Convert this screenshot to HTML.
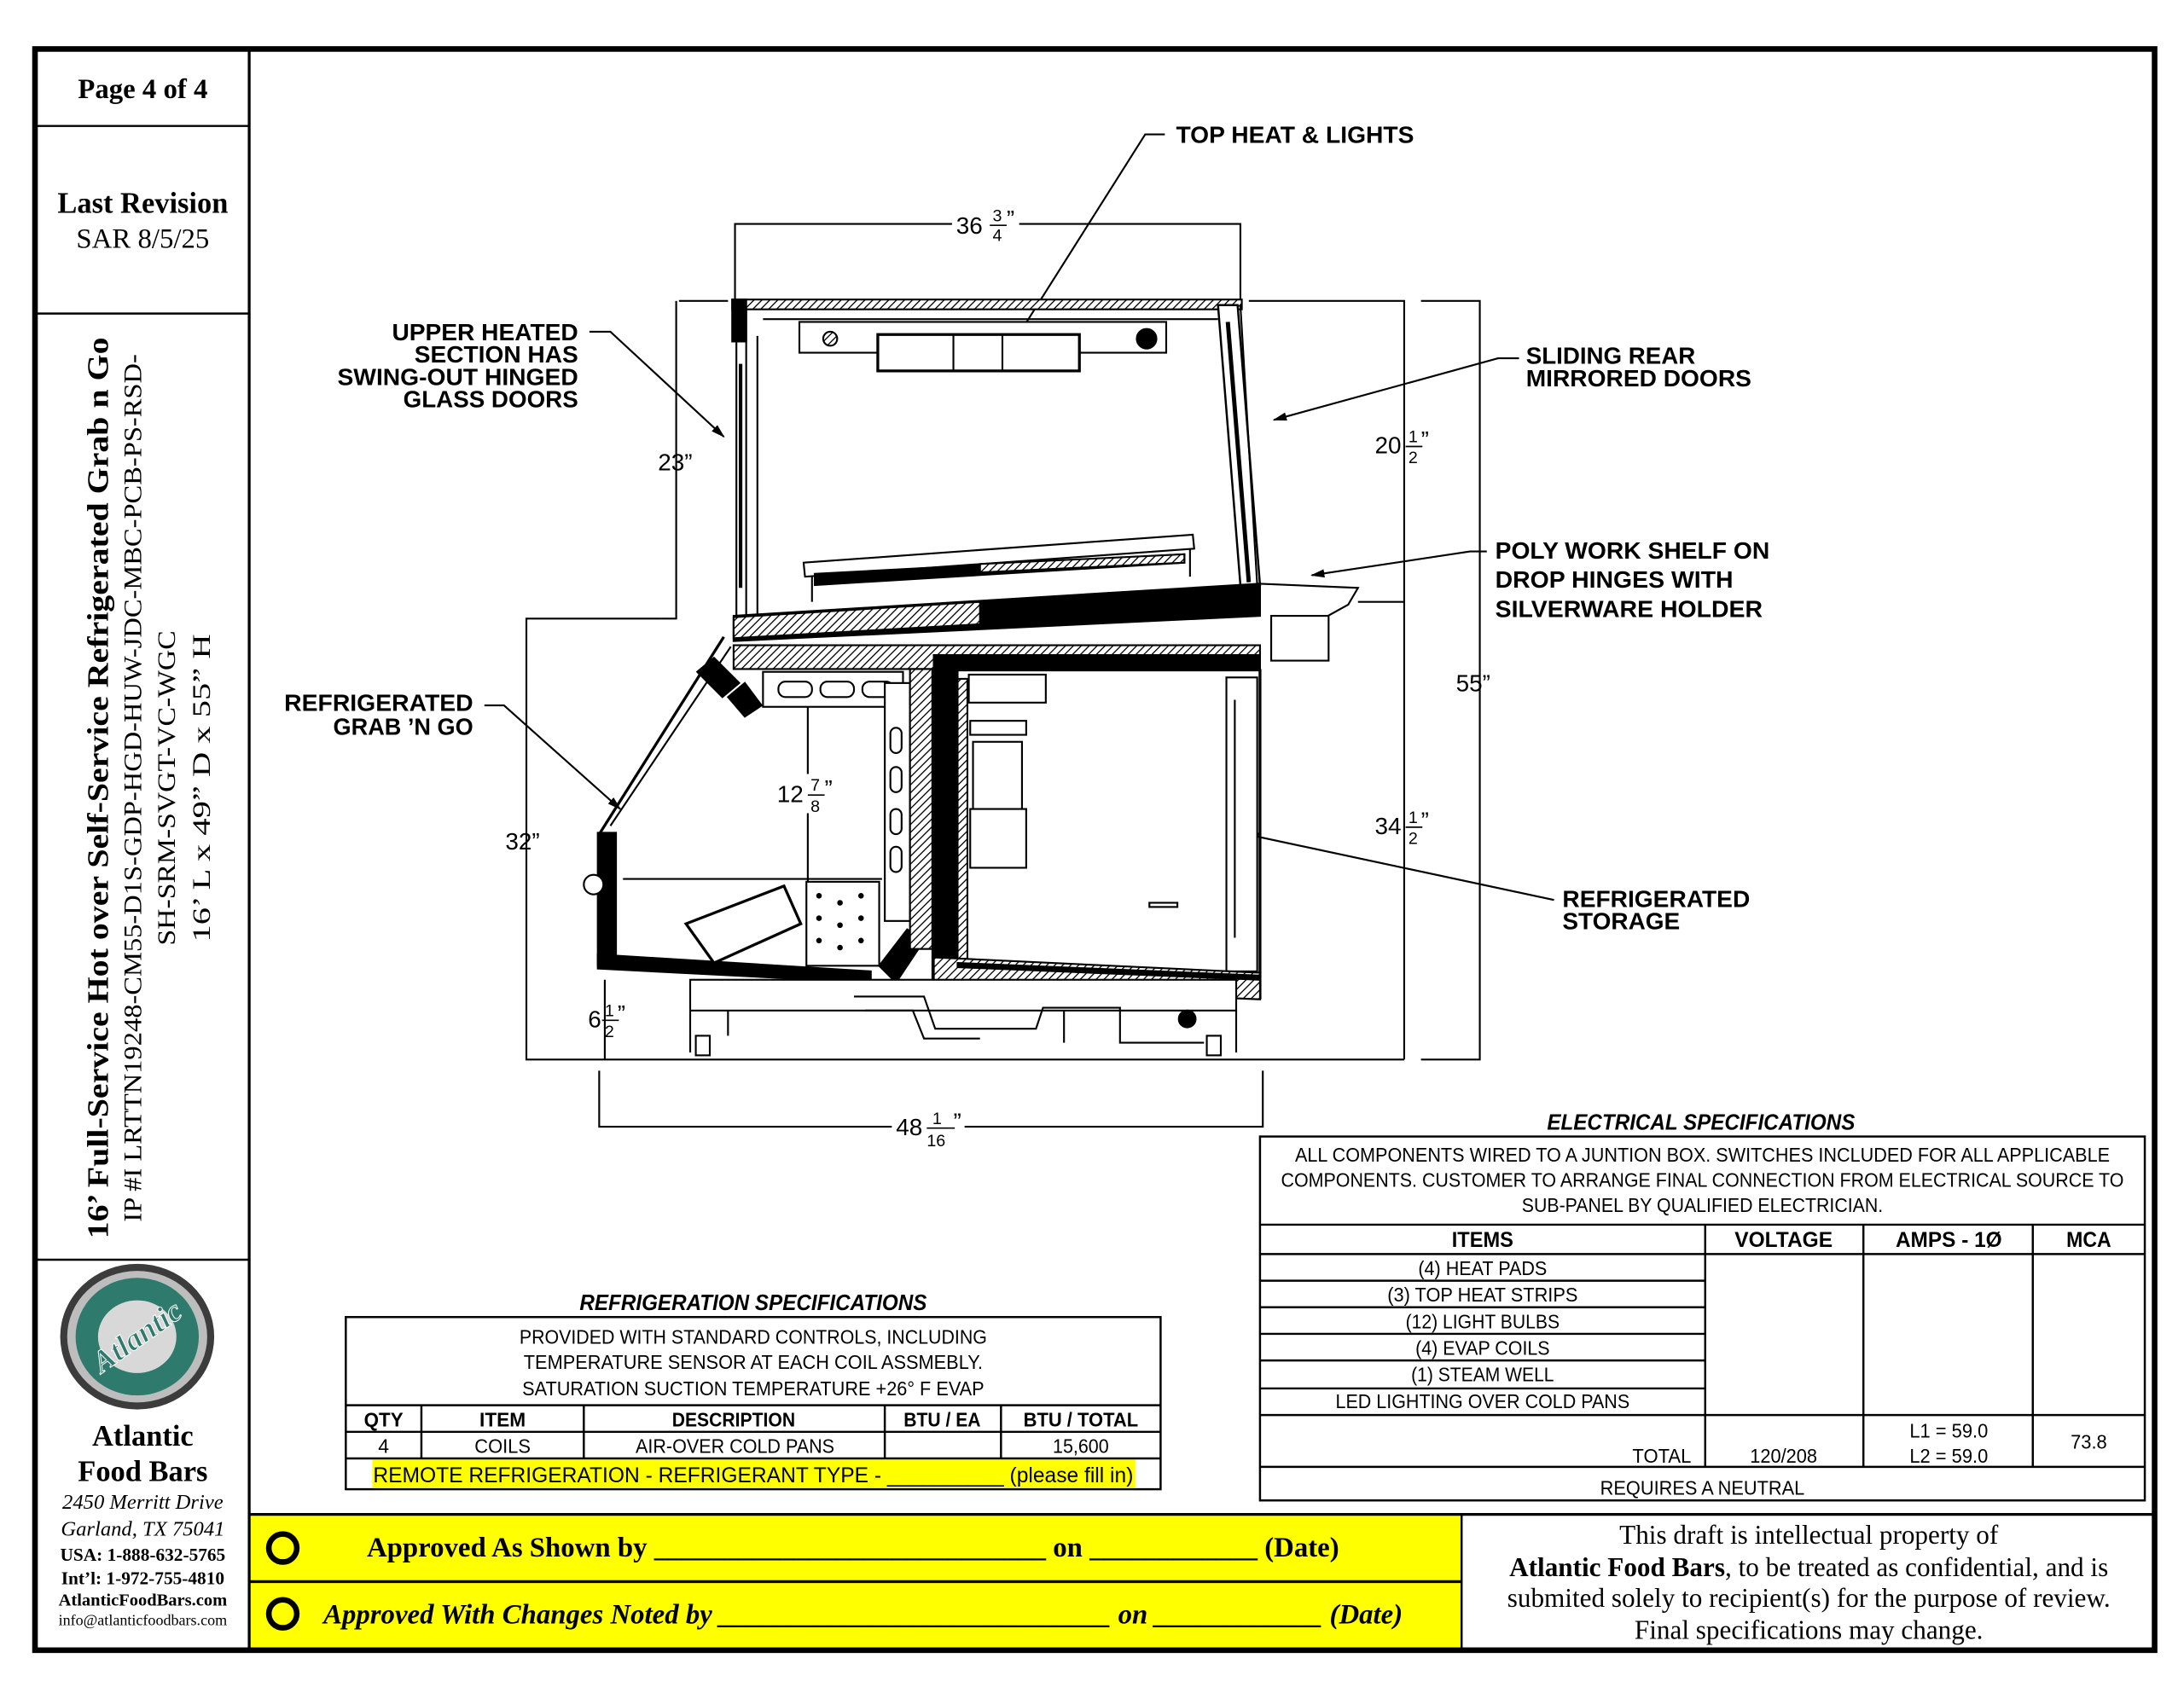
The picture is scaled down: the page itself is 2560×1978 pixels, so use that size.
<!DOCTYPE html>
<html><head><meta charset="utf-8"><style>
html,body{margin:0;padding:0;background:#fff;}
svg{display:block;}
.s{font-family:"Liberation Sans",Arial,sans-serif;}
.sb{font-family:"Liberation Sans",Arial,sans-serif;font-weight:bold;}
.r{font-family:"Liberation Serif","Times New Roman",serif;}
</style></head><body>
<svg width="2560" height="1978" viewBox="0 0 1560 1205.3" preserveAspectRatio="none" xmlns="http://www.w3.org/2000/svg">
<defs>
<pattern id="h" width="4" height="4" patternUnits="userSpaceOnUse" patternTransform="rotate(45)">
<rect width="4" height="4" fill="#fff"/><line x1="0" y1="0" x2="0" y2="4" stroke="#000" stroke-width="1.6"/></pattern>
<marker id="a" markerWidth="10" markerHeight="8" refX="9" refY="4" orient="auto" markerUnits="userSpaceOnUse"><path d="M0,1 L10,4 L0,7 Z" fill="#000"/></marker>
</defs>
<rect width="1560" height="1205.3" fill="#fff"/>

<!-- yellow band -->
<rect x="178" y="1083" width="866" height="95" fill="#ffff00"/>
<!-- frame -->
<rect x="25" y="35" width="1514" height="1144" fill="none" stroke="#000" stroke-width="4"/>
<line x1="178" y1="35" x2="178" y2="1179" stroke="#000" stroke-width="2"/>
<line x1="25" y1="90" x2="178" y2="90" stroke="#000" stroke-width="1.5"/>
<line x1="25" y1="224" x2="178" y2="224" stroke="#000" stroke-width="1.5"/>
<line x1="25" y1="900" x2="178" y2="900" stroke="#000" stroke-width="1.5"/>
<line x1="178" y1="1082" x2="1539" y2="1082" stroke="#000" stroke-width="2"/>
<line x1="178" y1="1130" x2="1044" y2="1130" stroke="#000" stroke-width="2"/>
<line x1="1044" y1="1082" x2="1044" y2="1179" stroke="#000" stroke-width="1.5"/>

<!-- left column text -->
<text x="102" y="70" class="r" font-weight="bold" font-size="20" text-anchor="middle">Page 4 of 4</text>
<text x="102" y="152" class="r" font-weight="bold" font-size="21" text-anchor="middle">Last Revision</text>
<text x="102" y="177" class="r" font-size="20" text-anchor="middle">SAR 8/5/25</text>
<g transform="translate(0,563) rotate(-90)">
<text x="0" y="77" class="r" font-weight="bold" font-size="21" text-anchor="middle" textLength="644" lengthAdjust="spacingAndGlyphs">16’  Full-Service Hot over Self-Service Refrigerated Grab n Go</text>
<text x="0" y="101" class="r" font-size="18" text-anchor="middle" textLength="620" lengthAdjust="spacingAndGlyphs">IP #I LRTTN19248-CM55-D1S-GDP-HGD-HUW-JDC-MBC-PCB-PS-RSD-</text>
<text x="0" y="125" class="r" font-size="18" text-anchor="middle" textLength="225" lengthAdjust="spacingAndGlyphs">SH-SRM-SVGT-VC-WGC</text>
<text x="0" y="150" class="r" font-size="18" text-anchor="middle" textLength="220" lengthAdjust="spacingAndGlyphs">16’  L x 49”  D x 55”  H</text>
</g>
<!-- logo -->
<ellipse cx="98" cy="955" rx="55" ry="52" fill="#3c3c3c"/>
<ellipse cx="98" cy="955" rx="50" ry="47" fill="#bdbdbd"/>
<ellipse cx="98" cy="955" rx="44" ry="42" fill="#2e7a6c"/>
<ellipse cx="98" cy="955" rx="28" ry="26" fill="#d8d8d8"/>
<text x="98" y="962" class="r" font-weight="bold" font-style="italic" font-size="22" fill="#2e7a6c" stroke="#fff" stroke-width="0.6" text-anchor="middle" transform="rotate(-35 98 955)">Atlantic</text>
<text x="102" y="1033" class="r" font-weight="bold" font-size="21" text-anchor="middle">Atlantic</text>
<text x="102" y="1058" class="r" font-weight="bold" font-size="21" text-anchor="middle">Food Bars</text>
<text x="102" y="1078" class="r" font-style="italic" font-size="15" text-anchor="middle">2450 Merritt Drive</text>
<text x="102" y="1097" class="r" font-style="italic" font-size="15" text-anchor="middle">Garland, TX 75041</text>
<text x="102" y="1115" class="r" font-weight="bold" font-size="13" text-anchor="middle">USA: 1-888-632-5765</text>
<text x="102" y="1132" class="r" font-weight="bold" font-size="13" text-anchor="middle">Int’l: 1-972-755-4810</text>
<text x="102" y="1147" class="r" font-weight="bold" font-size="12.5" text-anchor="middle">AtlanticFoodBars.com</text>
<text x="102" y="1161" class="r" font-size="11" text-anchor="middle">info@atlanticfoodbars.com</text>

<!-- approval band -->
<circle cx="202" cy="1106" r="10" fill="none" stroke="#000" stroke-width="4"/>
<circle cx="202" cy="1153" r="10" fill="none" stroke="#000" stroke-width="4"/>
<text x="262" y="1112" class="r" font-weight="bold" font-size="20">Approved As Shown by ____________________________ on ____________ (Date)</text>
<text x="231" y="1160" class="r" font-weight="bold" font-style="italic" font-size="20">Approved With Changes Noted by ____________________________ on ____________ (Date)</text>
<g class="r" font-size="19" text-anchor="middle">
<text x="1292" y="1103">This draft is intellectual property of</text>
<text x="1292" y="1126"><tspan font-weight="bold">Atlantic Food Bars</tspan>, to be treated as confidential, and is</text>
<text x="1292" y="1148">submited solely to recipient(s) for the purpose of review.</text>
<text x="1292" y="1171">Final specifications may change.</text>
</g>

<!-- refrigeration specs -->
<text x="538" y="936" class="sb" font-style="italic" font-size="16" text-anchor="middle" textLength="248" lengthAdjust="spacingAndGlyphs">REFRIGERATION SPECIFICATIONS</text>
<rect x="266" y="1043" width="545" height="20" fill="#ffff00"/>
<g fill="none" stroke="#000" stroke-width="1.5">
<rect x="247" y="941" width="582" height="123"/>
<line x1="247" y1="1004" x2="829" y2="1004"/>
<line x1="247" y1="1023" x2="829" y2="1023"/>
<line x1="247" y1="1042" x2="829" y2="1042"/>
<line x1="301" y1="1004" x2="301" y2="1042"/>
<line x1="417" y1="1004" x2="417" y2="1042"/>
<line x1="632" y1="1004" x2="632" y2="1042"/>
<line x1="715" y1="1004" x2="715" y2="1042"/>
</g>
<g class="s" font-size="14" text-anchor="middle">
<text x="538" y="960" textLength="334" lengthAdjust="spacingAndGlyphs">PROVIDED WITH STANDARD CONTROLS, INCLUDING</text>
<text x="538" y="978" textLength="328" lengthAdjust="spacingAndGlyphs">TEMPERATURE SENSOR AT EACH COIL ASSMEBLY.</text>
<text x="538" y="997" textLength="330" lengthAdjust="spacingAndGlyphs">SATURATION SUCTION TEMPERATURE +26° F EVAP</text>
<g class="sb" font-size="14">
<text x="274" y="1019" textLength="28" lengthAdjust="spacingAndGlyphs">QTY</text>
<text x="359" y="1019" textLength="33" lengthAdjust="spacingAndGlyphs">ITEM</text>
<text x="524" y="1019" textLength="88" lengthAdjust="spacingAndGlyphs">DESCRIPTION</text>
<text x="673" y="1019" textLength="55" lengthAdjust="spacingAndGlyphs">BTU / EA</text>
<text x="772" y="1019" textLength="82" lengthAdjust="spacingAndGlyphs">BTU / TOTAL</text>
</g>
<text x="274" y="1038">4</text>
<text x="359" y="1038" textLength="40" lengthAdjust="spacingAndGlyphs">COILS</text>
<text x="525" y="1038" textLength="142" lengthAdjust="spacingAndGlyphs">AIR-OVER COLD PANS</text>
<text x="772" y="1038" textLength="40" lengthAdjust="spacingAndGlyphs">15,600</text>
<text x="538" y="1059" font-size="15" textLength="543" lengthAdjust="spacingAndGlyphs">REMOTE REFRIGERATION - REFRIGERANT TYPE - __________ (please fill in)</text>
</g>

<!-- electrical specs -->
<text x="1215" y="807" class="sb" font-style="italic" font-size="16" text-anchor="middle" textLength="220" lengthAdjust="spacingAndGlyphs">ELECTRICAL SPECIFICATIONS</text>
<g fill="none" stroke="#000" stroke-width="1.5">
<rect x="900" y="812" width="632" height="260"/>
<line x1="900" y1="875" x2="1532" y2="875"/>
<line x1="900" y1="896" x2="1532" y2="896"/>
<line x1="900" y1="915" x2="1218" y2="915"/>
<line x1="900" y1="934" x2="1218" y2="934"/>
<line x1="900" y1="953" x2="1218" y2="953"/>
<line x1="900" y1="972" x2="1218" y2="972"/>
<line x1="900" y1="992" x2="1218" y2="992"/>
<line x1="900" y1="1011" x2="1532" y2="1011"/>
<line x1="900" y1="1048" x2="1532" y2="1048"/>
<line x1="1218" y1="875" x2="1218" y2="1048"/>
<line x1="1331" y1="875" x2="1331" y2="1048"/>
<line x1="1452" y1="875" x2="1452" y2="1048"/>
</g>
<g class="s" font-size="14" text-anchor="middle">
<text x="1216" y="830" textLength="582" lengthAdjust="spacingAndGlyphs">ALL COMPONENTS WIRED TO A JUNTION BOX.  SWITCHES INCLUDED FOR ALL APPLICABLE</text>
<text x="1216" y="848" textLength="602" lengthAdjust="spacingAndGlyphs">COMPONENTS. CUSTOMER TO ARRANGE FINAL CONNECTION FROM ELECTRICAL SOURCE TO</text>
<text x="1216" y="866" textLength="258" lengthAdjust="spacingAndGlyphs">SUB-PANEL BY QUALIFIED ELECTRICIAN.</text>
<g class="sb" font-size="15">
<text x="1059" y="891" textLength="44" lengthAdjust="spacingAndGlyphs">ITEMS</text>
<text x="1274" y="891" textLength="70" lengthAdjust="spacingAndGlyphs">VOLTAGE</text>
<text x="1392" y="891" textLength="76" lengthAdjust="spacingAndGlyphs">AMPS - 1Ø</text>
<text x="1492" y="891" textLength="32" lengthAdjust="spacingAndGlyphs">MCA</text>
</g>
<text x="1059" y="911" textLength="92" lengthAdjust="spacingAndGlyphs">(4) HEAT PADS</text>
<text x="1059" y="930" textLength="136" lengthAdjust="spacingAndGlyphs">(3) TOP HEAT STRIPS</text>
<text x="1059" y="949" textLength="110" lengthAdjust="spacingAndGlyphs">(12) LIGHT BULBS</text>
<text x="1059" y="968" textLength="96" lengthAdjust="spacingAndGlyphs">(4) EVAP COILS</text>
<text x="1059" y="987" textLength="102" lengthAdjust="spacingAndGlyphs">(1) STEAM WELL</text>
<text x="1059" y="1006" textLength="210" lengthAdjust="spacingAndGlyphs">LED LIGHTING OVER COLD PANS</text>
<text x="1187" y="1045" textLength="42" lengthAdjust="spacingAndGlyphs">TOTAL</text>
<text x="1274" y="1045" textLength="48" lengthAdjust="spacingAndGlyphs">120/208</text>
<text x="1392" y="1027" textLength="56" lengthAdjust="spacingAndGlyphs">L1 = 59.0</text>
<text x="1392" y="1045" textLength="56" lengthAdjust="spacingAndGlyphs">L2 = 59.0</text>
<text x="1492" y="1035" textLength="26" lengthAdjust="spacingAndGlyphs">73.8</text>
<text x="1216" y="1068" textLength="146" lengthAdjust="spacingAndGlyphs">REQUIRES A NEUTRAL</text>
</g>

<!-- ===== DRAWING ===== -->
<g fill="none" stroke="#000" stroke-width="1.3">
<!-- dimension / extension lines -->
<polyline points="525,215 525,160 886,160 886,215"/>
<polyline points="483,215 483,442 472,442"/>
<line x1="485" y1="215" x2="520" y2="215"/>
<polyline points="472,442 376,442 376,757 1003,757"/>
<polyline points="892,215 1003,215 1003,757"/>
<line x1="970" y1="430" x2="1003" y2="430"/>
<polyline points="1015,215 1057,215 1057,757 1015,757"/>
<polyline points="428,765 428,805 902,805 902,765"/>
<line x1="432" y1="700" x2="432" y2="757"/>
<line x1="577" y1="505" x2="577" y2="630"/>
<!-- leaders -->
<polyline points="832,96 818,96 727,240"/>
<polyline points="421,237 436,237 517,312" marker-end="url(#a)"/>
<polyline points="1085,256 1070,256 910,300" marker-end="url(#a)"/>
<polyline points="1062,394 1050,394 937,411" marker-end="url(#a)"/>
<polyline points="346,504 360,504 443,578" marker-end="url(#a)"/>
<polyline points="1110,643 1096,640 890,596" marker-end="url(#a)"/>
</g>

<!-- cabinet -->
<g stroke="#000" stroke-width="1.3" fill="none">
<!-- top bar -->
<rect x="523" y="214" width="364" height="7" fill="url(#h)"/>
<rect x="523" y="214" width="10" height="30" fill="#000"/>
<!-- left upper wall -->
<line x1="526" y1="221" x2="526" y2="440"/>
<line x1="533" y1="221" x2="533" y2="440"/>
<line x1="541" y1="240" x2="541" y2="440"/>
<line x1="529" y1="260" x2="529" y2="420" stroke-width="2.5"/>
<!-- right upper wall -->
<polygon points="870,218 884,218 900,418 886,418" fill="#fff" stroke-width="1.5"/>
<line x1="877" y1="230" x2="892" y2="416" stroke-width="3"/>
<line x1="886" y1="218" x2="898" y2="418"/>
<!-- top heat unit -->
<rect x="571" y="230" width="262" height="22" fill="#fff"/>
<line x1="545" y1="228" x2="870" y2="228"/>
<circle cx="593" cy="242" r="5" fill="url(#h)"/>
<circle cx="819" cy="242" r="7" fill="#000"/>
<rect x="627" y="239" width="144" height="26" fill="#fff" stroke-width="2"/>
<line x1="681" y1="239" x2="681" y2="265"/>
<line x1="716" y1="239" x2="716" y2="265"/>
<!-- shelf -->
<polygon points="574,402 852,382 853,392 575,412" fill="#fff"/>
<polygon points="582,410 846,396 846,402 582,418" fill="#000"/>
<polygon points="700,403 846,396 846,402 700,409" fill="url(#h)"/>
<line x1="580" y1="412" x2="580" y2="430"/>
<line x1="850" y1="392" x2="850" y2="412"/>
<!-- mid slab -->
<polygon points="524,440 900,417 900,440 524,458" fill="#000"/>
<polygon points="524,441 700,430 700,446 524,456" fill="url(#h)"/>
<rect x="524" y="461" width="376" height="17" fill="url(#h)"/>
<rect x="667" y="468" width="233" height="11" fill="#000"/>
<!-- rear shelf bracket -->
<polyline points="898,417 970,420 963,432 945,442"/>
<rect x="908" y="440" width="41" height="32" fill="#fff"/>
<!-- front angled glass -->
<line x1="517" y1="455" x2="428" y2="596" stroke-width="2"/>
<line x1="522" y1="462" x2="436" y2="590"/>
<polygon points="498,480 510,470 528,488 516,498" fill="#000"/>
<polygon points="520,498 532,488 544,504 532,512" fill="#000"/>
<!-- grab n go well -->
<rect x="427" y="595" width="13" height="95" fill="#000"/>
<circle cx="424" cy="632" r="7" fill="#fff"/>
<polygon points="427,682 622,694 622,702 427,692" fill="#000"/>
<rect x="545" y="480" width="100" height="25" fill="#fff"/>
<rect x="556" y="487" width="24" height="11" rx="5"/>
<rect x="586" y="487" width="24" height="11" rx="5"/>
<rect x="616" y="487" width="22" height="11" rx="5"/>
<line x1="445" y1="628" x2="630" y2="628"/>
<polygon points="490,660 560,633 572,660 510,688" fill="#fff" stroke-width="2"/>
<rect x="576" y="630" width="52" height="60" fill="#fff"/>
<g fill="#000" stroke="none">
<circle cx="585" cy="640" r="2"/><circle cx="600" cy="645" r="2"/><circle cx="615" cy="640" r="2"/>
<circle cx="585" cy="656" r="2"/><circle cx="600" cy="661" r="2"/><circle cx="615" cy="656" r="2"/>
<circle cx="585" cy="672" r="2"/><circle cx="600" cy="677" r="2"/><circle cx="615" cy="672" r="2"/>
</g>
<polygon points="628,690 648,664 660,672 640,702" fill="#000"/>
<!-- vertical divider -->
<rect x="632" y="488" width="18" height="170" fill="#fff"/>
<rect x="636" y="520" width="8" height="18" rx="4"/><rect x="636" y="548" width="8" height="18" rx="4"/>
<rect x="636" y="578" width="8" height="18" rx="4"/><rect x="636" y="605" width="8" height="18" rx="4"/>
<rect x="650" y="478" width="16" height="200" fill="url(#h)"/>
<rect x="666" y="478" width="18" height="222" fill="#000"/>
<rect x="684" y="485" width="7" height="200" fill="url(#h)"/>
<!-- right storage -->
<rect x="692" y="482" width="55" height="20" fill="#fff"/>
<rect x="693" y="515" width="40" height="10" fill="#fff"/>
<rect x="695" y="530" width="35" height="48" fill="#fff"/>
<rect x="693" y="578" width="40" height="42" fill="#fff"/>
<rect x="821" y="645" width="20" height="3"/>
<rect x="876" y="484" width="22" height="210" fill="#fff"/>
<line x1="882" y1="500" x2="882" y2="670"/>
<line x1="900" y1="478" x2="900" y2="714" stroke-width="2"/>
<!-- bottom slab -->
<polygon points="667,684 900,695 900,714 667,704" fill="url(#h)"/>
<polygon points="684,688 900,697 900,700 684,691" fill="#000"/>
<!-- base -->
<rect x="493" y="700" width="390" height="22" fill="#fff"/>
<line x1="493" y1="722" x2="493" y2="752"/><line x1="883" y1="722" x2="883" y2="752"/>
<rect x="497" y="740" width="10" height="14" fill="#fff"/>
<rect x="862" y="740" width="10" height="14" fill="#fff"/>
<path d="M610,712 L660,712 L668,735 L740,735 L745,720 L800,720 L800,745 L860,745" />
<path d="M618,722 L652,722 L660,742 L700,742" />
<circle cx="848" cy="728" r="6" fill="#000"/>
<line x1="520" y1="722" x2="520" y2="740"/><line x1="760" y1="722" x2="760" y2="745"/>
</g>

<!-- labels -->
<g class="sb" font-size="17">
<text x="840" y="102" textLength="170" lengthAdjust="spacingAndGlyphs">TOP HEAT &amp; LIGHTS</text>
<g text-anchor="end">
<text x="413" y="243" textLength="133" lengthAdjust="spacingAndGlyphs">UPPER HEATED</text>
<text x="413" y="259" textLength="117" lengthAdjust="spacingAndGlyphs">SECTION HAS</text>
<text x="413" y="275" textLength="172" lengthAdjust="spacingAndGlyphs">SWING-OUT HINGED</text>
<text x="413" y="291" textLength="125" lengthAdjust="spacingAndGlyphs">GLASS DOORS</text>
<text x="338" y="508" textLength="135" lengthAdjust="spacingAndGlyphs">REFRIGERATED</text>
<text x="338" y="525" textLength="100" lengthAdjust="spacingAndGlyphs">GRAB ’N GO</text>
</g>
<text x="1090" y="260" textLength="121" lengthAdjust="spacingAndGlyphs">SLIDING REAR</text>
<text x="1090" y="276" textLength="161" lengthAdjust="spacingAndGlyphs">MIRRORED DOORS</text>
<text x="1068" y="399" textLength="196" lengthAdjust="spacingAndGlyphs">POLY WORK SHELF ON</text>
<text x="1068" y="420" textLength="170" lengthAdjust="spacingAndGlyphs">DROP HINGES WITH</text>
<text x="1068" y="441" textLength="191" lengthAdjust="spacingAndGlyphs">SILVERWARE HOLDER</text>
<text x="1116" y="648" textLength="134" lengthAdjust="spacingAndGlyphs">REFRIGERATED</text>
<text x="1116" y="664" textLength="84" lengthAdjust="spacingAndGlyphs">STORAGE</text>
</g>
<!-- dimensions text -->
<g class="s" font-size="17">
<rect x="680" y="150" width="48" height="22" fill="#fff"/>
<text x="683" y="167">36</text><text x="709" y="158" font-size="12">3</text><line x1="707" y1="161" x2="719" y2="161" stroke="#000"/><text x="709" y="172" font-size="12">4</text><text x="719" y="162">”</text>
<text x="470" y="336">23”</text>
<text x="982" y="324">20</text><text x="1006" y="316" font-size="12">1</text><line x1="1004" y1="319" x2="1016" y2="319" stroke="#000"/><text x="1006" y="331" font-size="12">2</text><text x="1015" y="320">”</text>
<text x="1040" y="494">55”</text>
<text x="982" y="596">34</text><text x="1006" y="588" font-size="12">1</text><line x1="1004" y1="591" x2="1016" y2="591" stroke="#000"/><text x="1006" y="603" font-size="12">2</text><text x="1015" y="592">”</text>
<text x="361" y="607">32”</text>
<rect x="553" y="553" width="46" height="28" fill="#fff"/>
<text x="555" y="573">12</text><text x="579" y="565" font-size="12">7</text><line x1="577" y1="568" x2="589" y2="568" stroke="#000"/><text x="579" y="580" font-size="12">8</text><text x="589" y="569">”</text>
<text x="420" y="734">6</text><text x="432" y="726" font-size="12">1</text><line x1="430" y1="729" x2="442" y2="729" stroke="#000"/><text x="432" y="741" font-size="12">2</text><text x="441" y="730">”</text>
<rect x="637" y="792" width="52" height="30" fill="#fff"/>
<text x="640" y="811">48</text><text x="666" y="803" font-size="12">1</text><line x1="662" y1="806" x2="682" y2="806" stroke="#000"/><text x="662" y="819" font-size="12">16</text><text x="681" y="807">”</text>
</g>
</svg>
</body></html>
